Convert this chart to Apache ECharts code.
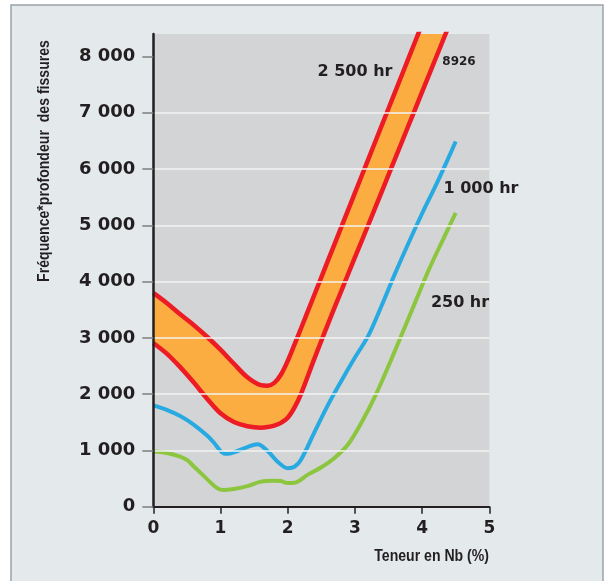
<!DOCTYPE html>
<html><head><meta charset="utf-8">
<script src="https://cdn.jsdelivr.net/npm/echarts@6/dist/echarts.min.js"></script>
<style>html,body{margin:0;padding:0;background:#fff}#c{width:607px;height:581px}</style>
</head><body><div id="c"></div>
<script>
// ---- data ----
const bandX = [0,0.2,0.4,0.6,0.8,1.0,1.2,1.4,1.6,1.7,1.8,1.9,2.0,2.1,2.2,2.4,2.6,2.8,3.0,3.2,3.4,3.6,3.8,4.0,4.2,4.4];
const upper2500 = [3800,3620,3420,3230,3020,2790,2540,2300,2160,2150,2200,2350,2590,2880,3176,3776,4376,4976,5576,6176,6776,7376,7976,8576,9176,9776];
const lower2500 = [2910,2720,2480,2210,1920,1660,1505,1430,1405,1415,1440,1490,1580,1760,2010,2640,3250,3840,4430,5010,5600,6190,6780,7370,7960,8550];
const x1000 = [0,0.2,0.4,0.6,0.8,0.9,1.0,1.05,1.1,1.2,1.4,1.55,1.7,1.85,2.0,2.1,2.2,2.4,2.6,2.8,3.0,3.2,3.4,3.6,3.8,4.0,4.2,4.4,4.5];
const y1000 = [1800,1720,1610,1460,1265,1140,990,945,940,965,1060,1110,990,800,685,710,840,1330,1810,2240,2650,3040,3580,4150,4690,5210,5700,6220,6490];
const x250 = [0,0.2,0.4,0.5,0.6,0.8,0.95,1.05,1.2,1.4,1.6,1.8,1.9,2.0,2.1,2.3,2.5,2.7,2.9,3.1,3.3,3.5,3.7,3.9,4.1,4.3,4.5];
const y250 = [980,955,890,830,720,490,330,295,315,365,445,462,455,420,425,570,700,870,1110,1500,1960,2500,3070,3640,4210,4720,5220];
const yTickValues = [0,1000,2000,3000,4000,5000,6000,7000,8000];
const yTickLabels = ['0','1 000','2 000','3 000','4 000','5 000','6 000','7 000','8 000'];
const xTickLabels = ['0','1','2','3','4','5'];
const seriesNames = ['2 500 hr','1 000 hr','250 hr'];
const peakLabel = '8926';

const RED = '#ed1c24', ORANGE = '#fbad41', BLUE = '#27aae1', GREEN = '#8cc63f', INK = '#231f20';
const zip = (xs, ys) => xs.map((x, i) => [x, ys[i]]);
const TICKFONT = 'DejaVu Sans';
const SMOOTH = 0.35;

function renderBand(params, api) {
  if (params.dataIndex !== 0) return;
  const pts = [];
  for (let i = 0; i < bandX.length; i++) pts.push(api.coord([bandX[i], upper2500[i]]));
  for (let i = bandX.length - 1; i >= 0; i--) pts.push(api.coord([bandX[i], lower2500[i]]));
  const cs = params.coordSys;
  return {
    type: 'polygon',
    shape: {points: pts},
    style: {fill: ORANGE, stroke: null},
    clipPath: {type: 'rect', shape: {x: cs.x, y: cs.y, width: cs.width, height: cs.height}}
  };
}

const chart = echarts.init(document.getElementById('c'), null, {renderer: 'canvas'});
chart.setOption({
  animation: false,
  backgroundColor: 'transparent',
  grid: {left: 153.3, right: 117.7, top: 34, bottom: 74.3, show: true, backgroundColor: '#d3d4d6', borderWidth: 0, containLabel: false},
  xAxis: {
    type: 'value', min: 0, max: 5, interval: 1,
    axisLine: {show: true, lineStyle: {color: INK, width: 2}},
    axisTick: {show: true, length: 7, lineStyle: {color: INK, width: 1.5}},
    axisLabel: {fontSize: 17, fontWeight: 'bold', fontFamily: TICKFONT, color: INK, margin: 13,
      formatter: v => xTickLabels[Math.round(v)] ?? ''},
    splitLine: {show: false}
  },
  yAxis: {
    type: 'value', min: 0, max: 8400, interval: 1000, z: 5,
    axisLine: {show: true, lineStyle: {color: INK, width: 2.5}},
    axisTick: {show: true, length: 11, lineStyle: {color: '#7d7d7d', width: 1.5}, customValues: yTickValues},
    axisLabel: {fontSize: 18, fontWeight: 'bold', fontFamily: TICKFONT, color: INK, margin: 18,
      padding: [0, 0, 9, 0], customValues: yTickValues,
      formatter: v => { const i = yTickValues.indexOf(v); return i >= 0 ? yTickLabels[i] : ''; }},
    splitLine: {show: true, showMaxLine: false, showMinLine: false, lineStyle: {color: '#f3f3f3', width: 1.5}}
  },
  graphic: [
    {type: 'rect', z: -10, silent: true, shape: {x: 11, y: 5, width: 592, height: 600},
      style: {fill: '#e4e9ec', stroke: '#9aa3a8', lineWidth: 1.5}},
    {type: 'text', z: 100, x: 45, y: 161, rotation: Math.PI / 2, scaleX: 0.88,
      style: {text: 'Fréquence*profondeur  des fissures', font: 'bold 16px "Liberation Sans"', fill: INK, align: 'center', verticalAlign: 'middle'}},
    {type: 'text', z: 100, x: 489, y: 557, scaleX: 0.88,
      style: {text: 'Teneur en Nb (%)', font: 'bold 16px "Liberation Sans"', fill: INK, align: 'right', verticalAlign: 'middle'}},
    {type: 'text', z: 100, x: 355, y: 72,
      style: {text: seriesNames[0], font: 'bold 16px "DejaVu Sans"', fill: INK, align: 'center', verticalAlign: 'middle'}},
    {type: 'text', z: 100, x: 459, y: 62,
      style: {text: peakLabel, font: 'bold 12px "DejaVu Sans"', fill: INK, align: 'center', verticalAlign: 'middle'}},
    {type: 'text', z: 100, x: 481, y: 189,
      style: {text: seriesNames[1], font: 'bold 16px "DejaVu Sans"', fill: INK, align: 'center', verticalAlign: 'middle'}},
    {type: 'text', z: 100, x: 460, y: 303,
      style: {text: seriesNames[2], font: 'bold 16px "DejaVu Sans"', fill: INK, align: 'center', verticalAlign: 'middle'}}
  ],
  series: [
    {type: 'custom', name: 'band', renderItem: renderBand, clip: true, silent: true, z: 2,
      data: bandX.map((x, i) => [x, upper2500[i], lower2500[i]]), encode: {x: 0, y: [1, 2]}},
    {type: 'line', name: seriesNames[0], data: zip(bandX, upper2500), smooth: SMOOTH, showSymbol: false,
      lineStyle: {color: RED, width: 4.5}, z: 4},
    {type: 'line', name: 'lower', data: zip(bandX, lower2500), smooth: SMOOTH, showSymbol: false,
      lineStyle: {color: RED, width: 4.5}, z: 4},
    {type: 'line', name: seriesNames[1], data: zip(x1000, y1000), smooth: SMOOTH, showSymbol: false,
      lineStyle: {color: BLUE, width: 4}, z: 4},
    {type: 'line', name: seriesNames[2], data: zip(x250, y250), smooth: SMOOTH, showSymbol: false,
      lineStyle: {color: GREEN, width: 4}, z: 4}
  ]
});
</script></body></html>
